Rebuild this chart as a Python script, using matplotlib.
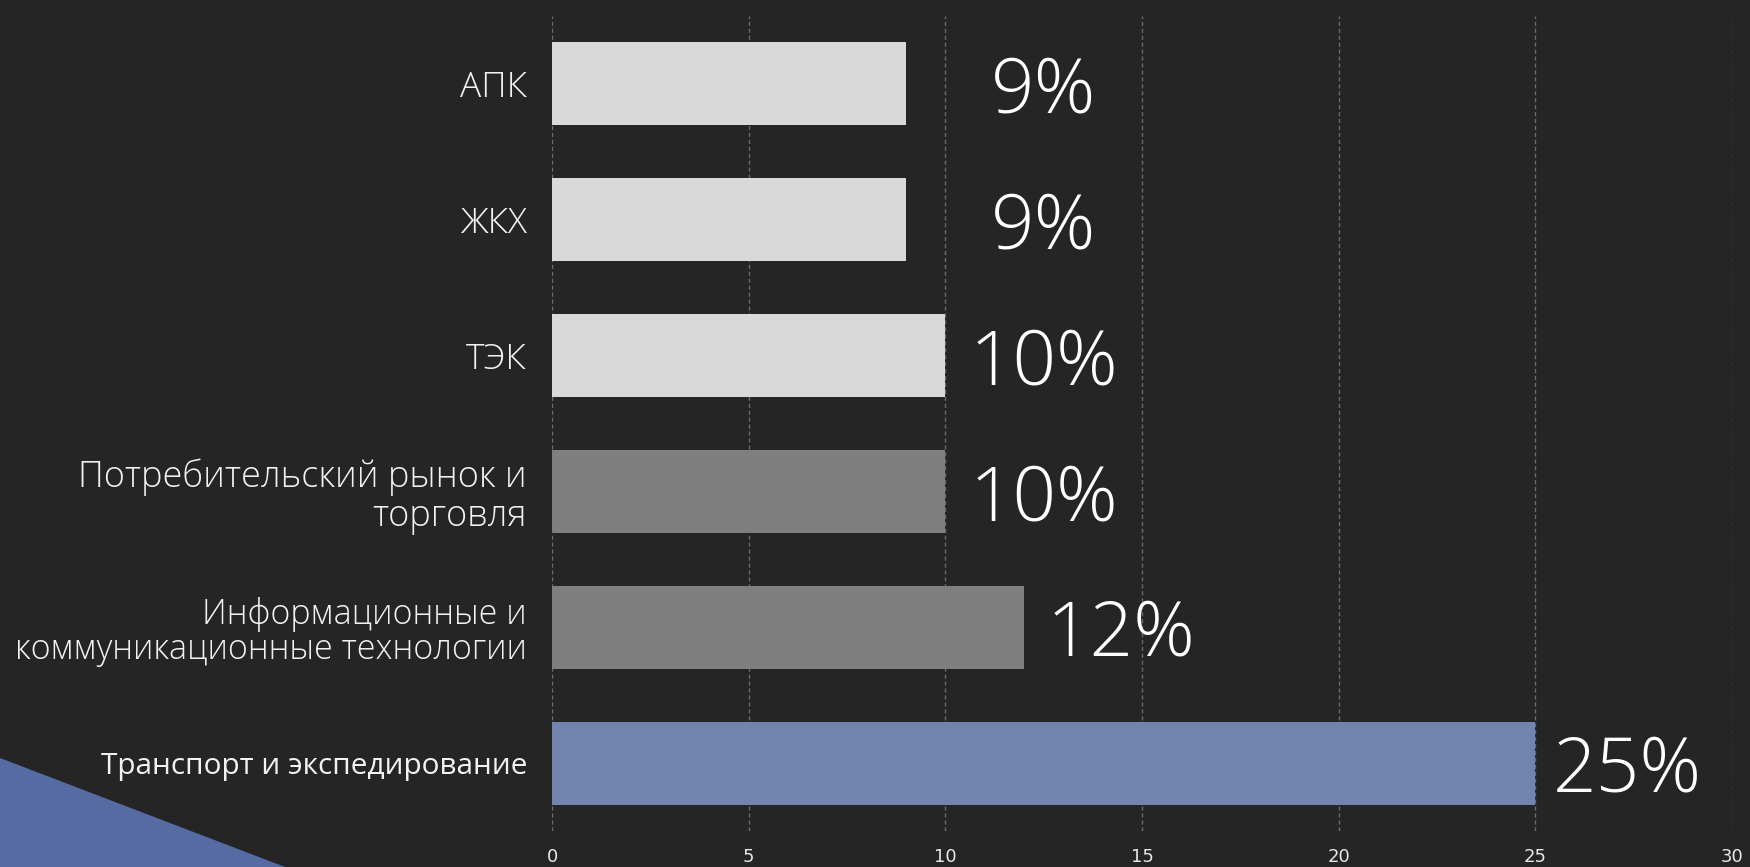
import numpy as np
import matplotlib.pyplot as plt
from matplotlib.patches import Polygon

plt.rcParams['font.family'] = ['Open Sans', 'DejaVu Sans']

categories = ['Транспорт и экспедирование',
              'Информационные и\nкоммуникационные технологии',
              'Потребительский рынок и\nторговля',
              'ТЭК', 'ЖКХ', 'АПК']
values = [25, 12, 10, 10, 9, 9]
labels = ['25%', '12%', '10%', '10%', '9%', '9%']
colors = ['#7084ae', '#7f7f7f', '#7f7f7f', '#d9d9d9', '#d9d9d9', '#d9d9d9']
# сдвиг подписей вправо от конца столбца (в пикселях)
label_pad = [17, 23, 24, 24, 85, 85]
# размеры шрифта подписей категорий
cat_sizes = [21.4, 24.6, 26, 25.5, 25.5, 25.5]

bg = '#252525'
fig = plt.figure(figsize=(17.5, 8.67), dpi=100, facecolor=bg)

# синий треугольник в левом нижнем углу
tri = Polygon([[0, 0], [0, 109 / 867], [285 / 1750, 0]], closed=True,
              transform=fig.transFigure, facecolor='#576ba3', edgecolor='none', zorder=0)
fig.patches.append(tri)

ax = fig.add_axes([552 / 1750, 36 / 867, 1180 / 1750, 815 / 867])
ax.set_facecolor('none')
y = np.arange(len(categories))
ax.barh(y, values, height=0.61, color=colors, zorder=3)

ax.set_xlim(0, 30)
ax.set_ylim(-0.5, 5.5)
ax.set_xticks(np.arange(0, 31, 5))
ax.set_yticks(y)
ax.set_yticklabels(categories, color='#f2f2f2', linespacing=1.05)
# первая подпись другим шрифтом, как в оригинале
for i, t in enumerate(ax.get_yticklabels()):
    t.set_fontsize(cat_sizes[i])
    t.set_fontweight('normal' if i == 0 else 'light')
ax.tick_params(axis='y', length=0, pad=18)
ax.tick_params(axis='x', length=0, pad=12, labelsize=13, labelcolor='#e8e8e8')
for t in ax.get_xticklabels():
    t.set_family(['Liberation Sans Narrow', 'DejaVu Sans'])

for s in ax.spines.values():
    s.set_visible(False)
ax.grid(True, axis='x', linestyle=(0, (3, 2)), color='#6a6a6a', linewidth=1, zorder=1)

for yi, v, lab, p in zip(y, values, labels, label_pad):
    ax.annotate(lab, (v, yi), xytext=(p * 0.72, 0), textcoords='offset points',
                ha='left', va='center_baseline', fontsize=55, fontweight='light',
                color='white', zorder=4)

plt.savefig('out.png', dpi=100, facecolor=bg)
